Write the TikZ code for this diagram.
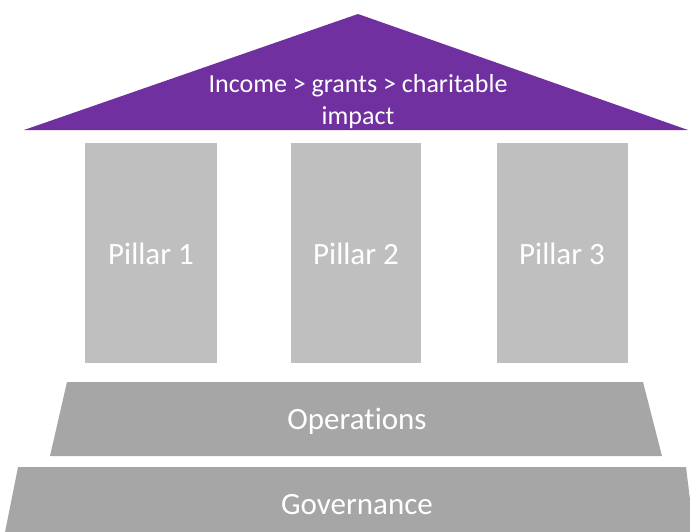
\documentclass[tikz,border=0pt]{standalone}
\usepackage{fontspec}
\setmainfont{Carlito}[Ligatures=NoCommon]
\definecolor{roofpurple}{HTML}{7030A0}
\definecolor{pillargray}{HTML}{BFBFBF}
\definecolor{basegray}{HTML}{A6A6A6}
\begin{document}
\begin{tikzpicture}[x=1pt,y=-1pt,
  lbl/.style={text=white,font=\fontsize{31}{36}\selectfont,align=center,inner sep=0pt},
  rooflbl/.style={text=white,font=\fontsize{26}{32}\selectfont,align=center,inner sep=0pt}]
\useasboundingbox (0,0) rectangle (690,532);
% roof
\fill[roofpurple] (24,130) -- (358,14) -- (688,130) -- cycle;
\node[rooflbl] (roof) at (358,102) {Income > grants > charitable\\impact};
% pillars
\fill[pillargray] (85,143) rectangle (217,363);
\fill[pillargray] (291,143) rectangle (421,363);
\fill[pillargray] (497,143) rectangle (628,363);
\node[lbl] (p1) at (151,254) {Pillar 1};
\node[lbl] (p2) at (356,254) {Pillar 2};
\node[lbl] (p3) at (562,254) {Pillar 3};
% operations
\fill[basegray] (67,382) -- (643,382) -- (662,456) -- (50,456) -- cycle;
\node[lbl] (ops) at (357,421) {Operations};
% governance
\fill[basegray] (18,467) -- (686,467) -- (694,532) -- (5,532) -- cycle;
\node[lbl] (gov) at (357,505) {Governance};
\end{tikzpicture}
\end{document}
